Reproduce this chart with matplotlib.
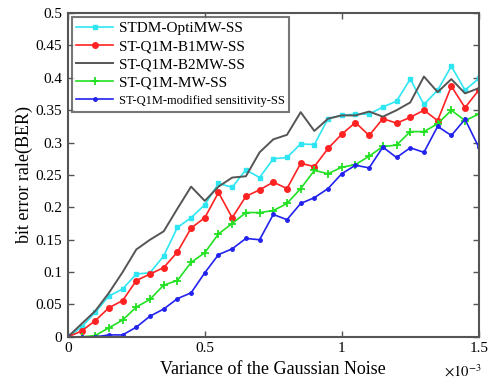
import numpy as np
import matplotlib
matplotlib.use("Agg")
import matplotlib.pyplot as plt
from matplotlib.ticker import FormatStrFormatter

# noise variance (x 1e-3)
noise_var = np.linspace(0, 1.5, 31)

# BER curves
ber_optimw = [0, 0.015, 0.038, 0.063, 0.074, 0.097, 0.099, 0.125, 0.169, 0.184,
              0.204, 0.237, 0.231, 0.258, 0.246, 0.275, 0.277, 0.298, 0.297, 0.337,
              0.342, 0.344, 0.344, 0.355, 0.364, 0.398, 0.359, 0.381, 0.418, 0.381, 0.399]
ber_b1mw = [0, 0.009, 0.025, 0.045, 0.056, 0.087, 0.097, 0.107, 0.131, 0.168,
            0.184, 0.223, 0.184, 0.217, 0.227, 0.239, 0.229, 0.268, 0.263, 0.291,
            0.313, 0.331, 0.311, 0.337, 0.330, 0.339, 0.350, 0.334, 0.387, 0.354, 0.381]
ber_b2mw = [0, 0.020, 0.040, 0.068, 0.100, 0.135, 0.150, 0.163, 0.198, 0.232,
            0.210, 0.232, 0.246, 0.248, 0.285, 0.305, 0.312, 0.347, 0.318, 0.337,
            0.342, 0.342, 0.348, 0.340, 0.350, 0.362, 0.402, 0.378, 0.398, 0.376, 0.384]
ber_mw = [0, 0, 0.002, 0.014, 0.026, 0.046, 0.058, 0.080, 0.087, 0.115,
          0.130, 0.159, 0.175, 0.192, 0.192, 0.195, 0.206, 0.229, 0.257, 0.252,
          0.262, 0.266, 0.279, 0.294, 0.296, 0.317, 0.317, 0.329, 0.350, 0.334, 0.344]
ber_modsens = [0, 0, 0, 0.003, 0.003, 0.015, 0.032, 0.043, 0.059, 0.068,
               0.099, 0.127, 0.136, 0.152, 0.150, 0.189, 0.181, 0.206, 0.215, 0.229,
               0.252, 0.265, 0.261, 0.293, 0.277, 0.292, 0.285, 0.325, 0.311, 0.336, 0.293]

labels = ["STDM-OptiMW-SS", "ST-Q1M-B1MW-SS", "ST-Q1M-B2MW-SS",
          "ST-Q1M-MW-SS", "ST-Q1M-modified sensitivity-SS"]

plt.rcParams["font.family"] = ["Liberation Serif", "DejaVu Serif"]
plt.rcParams["mathtext.fontset"] = "stix"

fig = plt.figure(figsize=(4.88, 3.85), dpi=100)
ax = fig.add_axes([0.139, 0.125, 0.842, 0.841])

ax.plot(noise_var, ber_optimw, color="#2ee6f2", lw=1.2, marker="s", ms=3.5, label=labels[0])
ax.plot(noise_var, ber_b1mw, color="#ff2222", lw=1.2, marker="o", ms=4, label=labels[1])
ax.plot(noise_var, ber_b2mw, color="#555555", lw=1.4, label=labels[2])
ax.plot(noise_var, ber_mw, color="#22e022", lw=1.2, marker="+", ms=6, mew=1.3, label=labels[3])
ax.plot(noise_var, ber_modsens, color="#2222ee", lw=1.2, marker=".", ms=5, label=labels[4])

ax.set_xlim(0, 1.5)
ax.set_ylim(0, 0.5)
ax.set_xticks([0, 0.5, 1, 1.5])
ax.set_yticks(np.arange(0, 0.501, 0.05))
ax.xaxis.set_major_formatter(FormatStrFormatter("%g"))
ax.yaxis.set_major_formatter(FormatStrFormatter("%g"))
ax.tick_params(direction="in", length=4, width=1, top=True, right=True,
               labelsize=11, color="#555555", pad=4)
for s in ax.spines.values():
    s.set_color("#555555")
    s.set_linewidth(1.5)

ax.set_xlabel("Variance of the Gaussian Noise", fontsize=13, labelpad=4)
ax.set_ylabel("bit error rale(BER)", fontsize=13, labelpad=2)
fig.text(0.948, 0.036, r"$\times10^{-3}$", fontsize=10.5, ha="center", va="center")

leg = ax.legend(loc="upper left", fontsize=11, frameon=True, fancybox=False,
                edgecolor="#555555", handlelength=2.4, handletextpad=0.4,
                labelspacing=0.28, borderpad=0.3, borderaxespad=0.25)
leg.get_frame().set_linewidth(1.5)
leg.get_texts()[4].set_fontsize(9)

fig.savefig("out.png", dpi=100)
